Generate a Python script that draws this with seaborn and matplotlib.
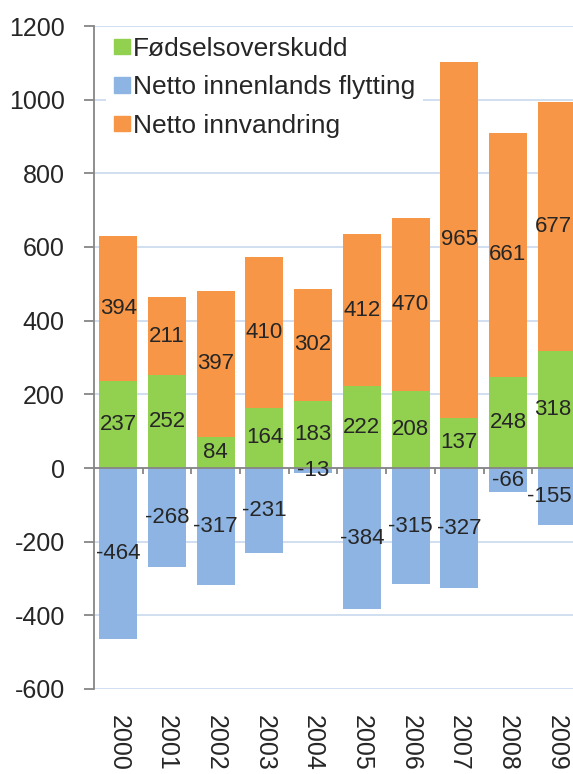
import numpy as np
import pandas as pd
import matplotlib
matplotlib.use('Agg')
import matplotlib.pyplot as plt
import matplotlib.transforms as mtransforms
from matplotlib.patches import Patch
import seaborn as sns

years = ['2000', '2001', '2002', '2003', '2004', '2005', '2006', '2007', '2008', '2009']
fodselsoverskudd = [237, 252, 84, 164, 183, 222, 208, 137, 248, 318]
innenlands = [-464, -268, -317, -231, -13, -384, -315, -327, -66, -155]
innvandring = [394, 211, 397, 410, 302, 412, 470, 965, 661, 677]

c_green = '#92d050'
c_blue = '#8db4e2'
c_orange = '#f79646'
c_axis = '#868686'
c_grid = '#c9d9ee'

sns.set_style('white')
plt.rcParams['font.family'] = ['Liberation Sans', 'DejaVu Sans']
plt.rcParams['axes.unicode_minus'] = False

df = pd.DataFrame({'year': years, 'fodsel': fodselsoverskudd,
                   'innenlands': innenlands, 'innvandring': innvandring})
df['total'] = df['fodsel'] + df['innvandring']

fig = plt.figure(figsize=(5.73, 7.74), dpi=100)
# the last category runs a bit past the right edge, as in the original
ax = fig.add_axes([94 / 573, 85 / 774, 487 / 573, 663 / 774])

w = 0.78
# orange on top of green: draw totals first, green over it
sns.barplot(data=df, x='year', y='total', color=c_orange, width=w,
            saturation=1, linewidth=0, ax=ax, zorder=2)
sns.barplot(data=df, x='year', y='fodsel', color=c_green, width=w,
            saturation=1, linewidth=0, ax=ax, zorder=2)
sns.barplot(data=df, x='year', y='innenlands', color=c_blue, width=w,
            saturation=1, linewidth=0, ax=ax, zorder=2)

# value labels in the middle of each segment
fs_lab = 16
edge_trans = mtransforms.blended_transform_factory(fig.transFigure, ax.transData)
last = len(years) - 1
for i, row in df.iterrows():
    ys = [row['fodsel'] / 2,
          row['fodsel'] + row['innvandring'] / 2,
          row['innenlands'] / 2]
    vals = [row['fodsel'], row['innvandring'], row['innenlands']]
    for y, v in zip(ys, vals):
        if i == last:
            # keep labels of the cut-off bar inside the picture
            ax.text(0.998, y, str(v), ha='right', va='center', fontsize=fs_lab,
                    zorder=5, transform=edge_trans)
        else:
            ax.text(i, y, str(v), ha='center', va='center', fontsize=fs_lab,
                    zorder=5)

ax.set_ylim(-600, 1200)
ax.set_yticks(np.arange(-600, 1201, 200))
ax.set_xlim(-0.5, len(years) - 0.5)
ax.set_xlabel('')
ax.set_ylabel('')

ax.set_axisbelow(True)
ax.yaxis.grid(True, color=c_grid, linewidth=1.2)
ax.xaxis.grid(False)

for s in ['top', 'right', 'bottom']:
    ax.spines[s].set_visible(False)
ax.spines['left'].set_color(c_axis)
ax.spines['left'].set_linewidth(1.3)

# zero line with category separators
ax.axhline(0, color=c_axis, linewidth=1.3, zorder=4)
ax.vlines(np.arange(len(years) - 1) + 0.5, -15, 0, color=c_axis,
          linewidth=1.3, zorder=4)

fs = 18
ax.tick_params(axis='y', left=True, length=7, width=1.3, color=c_axis,
               labelsize=fs, pad=14)
ax.tick_params(axis='x', bottom=False, length=0, labelsize=fs, pad=19)
plt.setp(ax.get_xticklabels(), rotation=270, ha='center', va='top')

handles = [Patch(color=c_green, label='Fødselsoverskudd'),
           Patch(color=c_blue, label='Netto innenlands flytting'),
           Patch(color=c_orange, label='Netto innvandring')]
leg = ax.legend(handles=handles, loc='upper left',
                bbox_to_anchor=(12 / 487, 1 - 3 / 663),
                fontsize=19, frameon=True, framealpha=1, edgecolor='white',
                fancybox=False, borderaxespad=0, borderpad=0.3,
                handlelength=0.6, handleheight=0.53, handletextpad=0.12,
                labelspacing=0.55)
leg.get_frame().set_linewidth(0)
leg.set_zorder(6)

fig.savefig('out.png', dpi=100)
